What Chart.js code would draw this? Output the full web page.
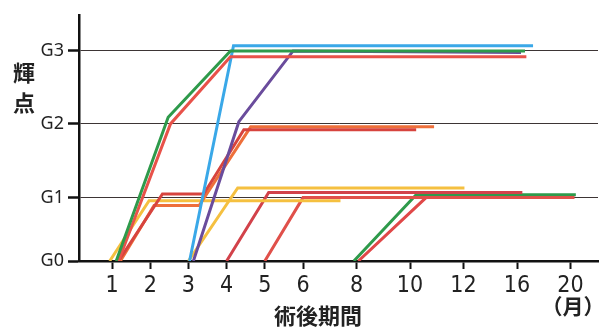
<!DOCTYPE html>
<html>
<head>
<meta charset="utf-8">
<script src="https://cdn.jsdelivr.net/npm/chart.js@4.4.1/dist/chart.umd.min.js"></script>
<style>
  html, body { margin: 0; background: #fff; }
  #wrap { width: 612px; height: 328px; position: relative; }
</style>
</head>
<body>
<div id="wrap"><canvas id="chart"></canvas></div>
<script>
// axis labels
const tickMonths = [1, 2, 3, 4, 5, 6, 8, 10, 12, 16, 20];
const gradeLabels = ["G0", "G1", "G2", "G3"];

// each case: months after surgery / grade (0 = G0 ... 3 = G3)
const greenMonths = [1.11, 2.47, 4.1, 16.6];
const greenGrades = [0, 2.09, 3, 3];
const redTopMonths = [1.17, 2.53, 4.1, 16.7];
const redTopGrades = [0, 2, 2.92, 2.92];
const blueMonths = [3.03, 4.18, 17.2];
const blueGrades = [0, 3.07, 3.07];
const purpleMonths = [3.13, 4.32, 5.74, 16.3];
const purpleGrades = [0, 2.03, 3, 2.98];
const redMidMonths = [1.17, 2.32, 3.4, 4.45, 10.23];
const redMidGrades = [0, 1.05, 1.05, 1.92, 1.92];
const orangeMonths = [1.22, 2.1, 3.28, 4.63, 10.9];
const orangeGrades = [0, 0.875, 0.875, 1.96, 1.96];
const yellowAMonths = [0.94, 1.97, 7.4];
const yellowAGrades = [0, 0.95, 0.95];
const yellowBMonths = [3.0, 4.29, 12.07];
const yellowBGrades = [0, 1.13, 1.13];
const redCMonths = [4.0, 5.1, 16.4];
const redCGrades = [0, 1.07, 1.07];
const redDMonths = [5.0, 6.0, 20.3];
const redDGrades = [0, 1.0, 1.0];
const greenLateMonths = [7.9, 10.23, 20.4];
const greenLateGrades = [0, 1.04, 1.04];
const redLateMonths = [8.07, 10.6, 20.1];
const redLateGrades = [0, 1.0, 1.0];

// the axes are not linear in the figure: where each tick sits on the scale
const tickSlots = [1, 2, 3, 4, 5, 6, 7.4, 8.8, 10.2, 11.6, 13];
const gradeSlots = [0, 0.86, 1.86, 2.85];

function interp(v, from, to) {
  let i = 0;
  while (i < from.length - 2 && v > from[i + 1]) i++;
  const t = (v - from[i]) / (from[i + 1] - from[i]);
  return to[i] + t * (to[i + 1] - to[i]);
}

function series(months, grades, color) {
  return {
    data: months.map((m, i) => ({
      x: interp(m, tickMonths, tickSlots),
      y: interp(grades[i], [0, 1, 2, 3], gradeSlots),
    })),
    borderColor: color,
    borderWidth: 3,
    pointRadius: 0,
    tension: 0,
    fill: false,
  };
}

const textPlugin = {
  id: "extraText",
  afterDraw(chart) {
    const ctx = chart.ctx;
    ctx.save();
    ctx.fillStyle = "#222";
    ctx.textAlign = "center";
    ctx.textBaseline = "middle";
    ctx.font = "bold 22px 'Noto Sans CJK JP'";
    ctx.fillText("輝", 24, 73);
    ctx.fillText("点", 24, 103);
    ctx.fillText("術後期間", 318, 316);
    ctx.font = "bold 21px 'Noto Sans CJK JP'";
    ctx.fillText("（月）", 573, 306);
    ctx.restore();
  },
};

new Chart(document.getElementById("chart"), {
  type: "line",
  data: {
    datasets: [
      series(greenMonths, greenGrades, "#2e9a4b"),
      series(redTopMonths, redTopGrades, "#e8524a"),
      series(blueMonths, blueGrades, "#3aa8e8"),
      series(purpleMonths, purpleGrades, "#6a4c9c"),
      series(redMidMonths, redMidGrades, "#d7443e"),
      series(orangeMonths, orangeGrades, "#ee6f3a"),
      series(yellowAMonths, yellowAGrades, "#f5c040"),
      series(yellowBMonths, yellowBGrades, "#f5c040"),
      series(redCMonths, redCGrades, "#d2424a"),
      series(redDMonths, redDGrades, "#e0504a"),
      series(greenLateMonths, greenLateGrades, "#2e9a4b"),
      series(redLateMonths, redLateGrades, "#e04848"),
    ],
  },
  options: {
    responsive: true,
    maintainAspectRatio: false,
    animation: false,
    layout: { padding: { top: 12, right: 14, left: 0, bottom: 0 } },
    plugins: {
      legend: { display: false },
      tooltip: { enabled: false },
    },
    scales: {
      x: {
        type: "linear",
        min: 0.136,
        max: 13.72,
        afterBuildTicks: (scale) => {
          scale.ticks = tickSlots.map((v) => ({ value: v }));
        },
        afterFit: (scale) => {
          scale.height = 67;
        },
        ticks: {
          autoSkip: false,
          maxRotation: 0,
          padding: 3,
          color: "#222",
          font: { family: "'Liberation Sans Narrow', 'DejaVu Sans Condensed'", size: 23 },
          callback: (v, i) => tickMonths[i],
        },
        grid: {
          drawOnChartArea: false,
          tickLength: 8,
          tickColor: "#111",
          tickWidth: 2,
        },
        border: { color: "#111", width: 2.5 },
      },
      y: {
        type: "linear",
        min: 0,
        max: 3.34,
        afterBuildTicks: (scale) => {
          scale.ticks = gradeSlots.map((v) => ({ value: v }));
        },
        afterFit: (scale) => {
          scale.width = 79;
        },
        ticks: {
          padding: 4,
          color: "#222",
          font: { family: "'Noto Sans'", size: 18 },
          callback: (v, i) => gradeLabels[i],
        },
        grid: {
          color: (c) => (c.index === 0 ? "rgba(0,0,0,0)" : "#3d3535"),
          lineWidth: 1,
          tickLength: 11,
          tickColor: "#111",
          tickWidth: 2.5,
        },
        border: { color: "#111", width: 2.5 },
      },
    },
  },
  plugins: [textPlugin],
});
</script>
</body>
</html>
